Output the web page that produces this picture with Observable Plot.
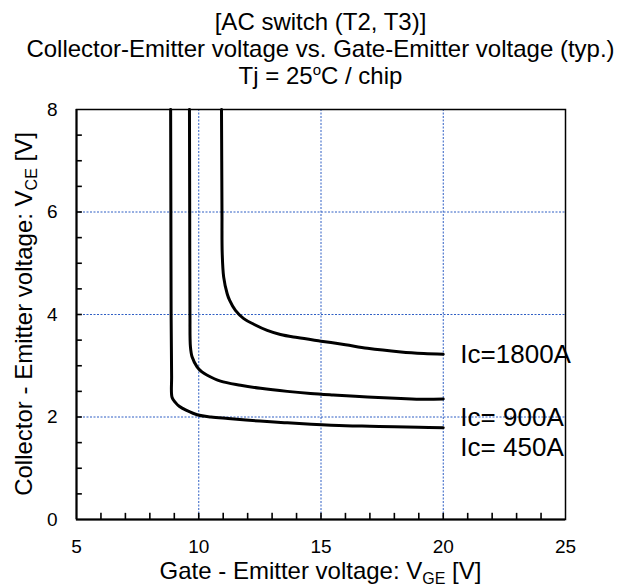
<!DOCTYPE html>
<html><head><meta charset="utf-8">
<script src="https://cdn.jsdelivr.net/npm/d3@7"></script>
<script src="https://cdn.jsdelivr.net/npm/@observablehq/plot@0.6"></script>
<style>body{margin:0;background:#fff;}</style>
</head><body><div id="chart"></div>
<script>
// Series data (VGE [V], VCE [V])
const vge450 = [8.85, 8.86, 8.87, 8.89, 8.91, 9.05, 9.2, 9.5, 9.97, 10.5, 11.2, 12.5, 13.5, 14.6, 16, 17, 18, 19, 20];
const vce450 = [8, 6, 4, 2.8, 2.38, 2.28, 2.21, 2.13, 2.04, 2.0, 1.97, 1.92, 1.89, 1.86, 1.83, 1.82, 1.81, 1.80, 1.79];
const vge900 = [9.62, 9.63, 9.64, 9.66, 9.73, 9.93, 10.13, 10.33, 10.89, 11.71, 12.53, 13.62, 14.57, 15.5, 16.9, 18.27, 19.2, 20];
const vce900 = [8, 6, 4, 3.37, 3.17, 2.98, 2.88, 2.82, 2.70, 2.62, 2.56, 2.50, 2.46, 2.43, 2.39, 2.36, 2.345, 2.35];
const vge1800 = [10.93, 10.94, 10.95, 10.96, 11.02, 11.16, 11.26, 11.5, 11.84, 12.25, 12.8, 13.34, 14.03, 15.0, 16.0, 16.9, 18.27, 19.2, 20];
const vce1800 = [8, 7, 6, 5.19, 4.73, 4.41, 4.28, 4.08, 3.92, 3.81, 3.69, 3.61, 3.55, 3.48, 3.41, 3.34, 3.27, 3.24, 3.225];

const seriesLabels = ["Ic=1800A", "Ic= 900A", "Ic= 450A"];
const labelX = [20.7, 20.7, 20.7];
const labelY = [3.22, 1.99, 1.41];

const xTicks = [5, 10, 15, 20, 25];
const yTicks = [0, 2, 4, 6, 8];
const xMinor = [6, 7, 8, 9, 10, 11, 12, 13, 14, 15, 16, 17, 18, 19, 20, 21, 22, 23, 24];
const yMinor = [0.5, 1, 1.5, 2, 2.5, 3, 3.5, 4, 4.5, 5, 5.5, 6, 6.5, 7, 7.5];
const xGrid = [10, 15, 20];
const yGrid = [2, 4, 6];

const titleLines = ["[AC switch (T2, T3)]", "Collector-Emitter voltage vs. Gate-Emitter voltage (typ.)"];

const FONT = "'Liberation Sans', Arial, Helvetica, sans-serif";
const mk = (xs, ys) => xs.map((x, i) => ({x, y: ys[i]}));
const d450 = mk(vge450, vce450), d900 = mk(vge900, vce900), d1800 = mk(vge1800, vce1800);
const labels = seriesLabels.map((t, i) => ({t, x: labelX[i], y: labelY[i]}));
const xTickRows = xMinor.map(v => ({v}));
const yTickRows = yMinor.map(v => ({v}));

const W = 627, H = 587, mT = 109, mB = 68, mL = 76, mR = 62;
const gridStyle = {stroke: "#2f5fc4", strokeWidth: 1, strokeDasharray: "2,1.5"};
const lineStyle = {x: "x", y: "y", curve: "catmull-rom", stroke: "black", strokeWidth: 3};

const plot = Plot.plot({
  width: W, height: H,
  marginTop: mT, marginBottom: mB, marginLeft: mL, marginRight: mR,
  style: {fontFamily: FONT, background: "white", color: "black"},
  x: {domain: [5, 25]},
  y: {domain: [0, 8]},
  marks: [
    Plot.ruleX(xGrid, gridStyle),
    Plot.ruleY(yGrid, gridStyle),
    // inward minor ticks
    Plot.ruleX(xTickRows, {x: "v", y1: 0, y2: 0.12, stroke: "#000", strokeWidth: 1.6}),
    Plot.ruleY(yTickRows, {y: "v", x1: 5, x2: 5.24, stroke: "#000", strokeWidth: 1.6}),
    Plot.frame({stroke: "black", strokeWidth: 1.5}),
    Plot.ruleX([5], {stroke: "black", strokeWidth: 2}),
    Plot.ruleY([0], {stroke: "black", strokeWidth: 2}),
    Plot.axisX({ticks: xTicks, tickSize: 0, tickPadding: 20, fontSize: 19, label: null}),
    Plot.axisY({ticks: yTicks, tickSize: 0, tickPadding: 19, fontSize: 19, label: null}),
    Plot.line(d450, lineStyle),
    Plot.line(d900, lineStyle),
    Plot.line(d1800, lineStyle),
    Plot.text(labels, {x: "x", y: "y", text: "t", textAnchor: "start", fontSize: 26, fill: "black"})
  ]
});
document.getElementById("chart").appendChild(plot);

const svg = d3.select(plot);
const cx = (mL + (W - mR)) / 2;
const tg = svg.append("g").attr("font-family", FONT).attr("fill", "black");
tg.append("text").attr("x", cx).attr("y", 30).attr("text-anchor", "middle").attr("font-size", 24).text(titleLines[0]);
tg.append("text").attr("x", cx).attr("y", 57).attr("text-anchor", "middle").attr("font-size", 24).text(titleLines[1]);
const t3 = tg.append("text").attr("x", cx).attr("y", 84).attr("text-anchor", "middle").attr("font-size", 24);
t3.append("tspan").text("Tj = 25");
t3.append("tspan").attr("dy", -9).attr("font-size", 15).text("o");
t3.append("tspan").attr("dy", 9).text("C / chip");

const xl = tg.append("text").attr("x", cx).attr("y", 579).attr("text-anchor", "middle").attr("font-size", 24);
xl.append("tspan").text("Gate - Emitter voltage: V");
xl.append("tspan").attr("dy", 5).attr("font-size", 16).text("GE");
xl.append("tspan").attr("dy", -5).text(" [V]");

const cy = (mT + (H - mB)) / 2;
const yl = tg.append("text").attr("transform", `translate(32,${cy}) rotate(-90)`).attr("text-anchor", "middle").attr("font-size", 24);
yl.append("tspan").text("Collector - Emitter voltage: V");
yl.append("tspan").attr("dy", 5).attr("font-size", 16).text("CE");
yl.append("tspan").attr("dy", -5).text(" [V]");
</script>
</body></html>
